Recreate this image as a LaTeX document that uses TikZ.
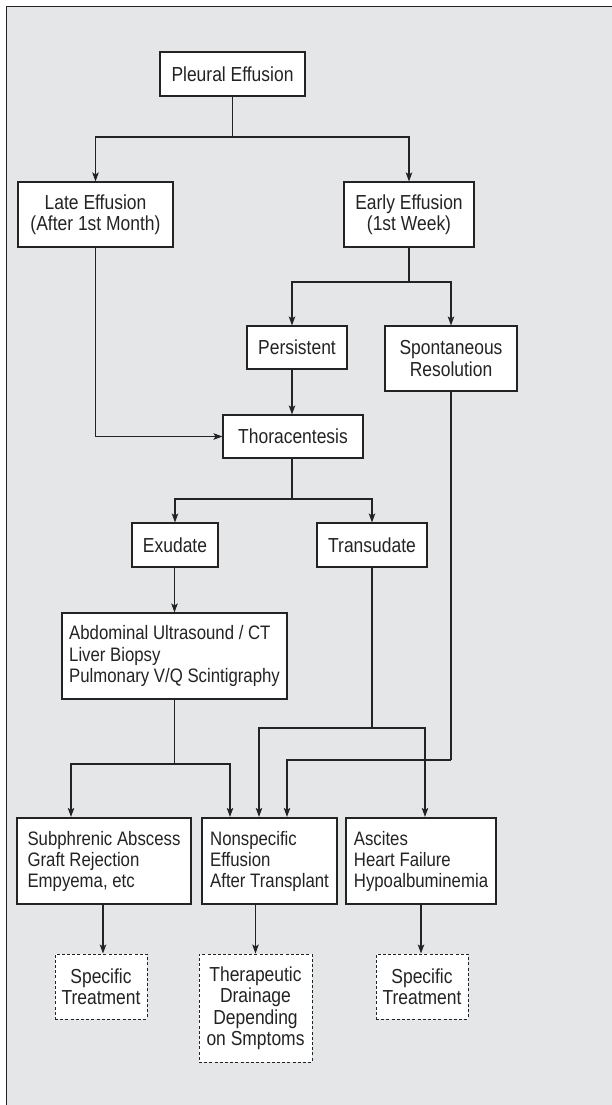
\documentclass[tikz,border=0pt]{standalone}
\usepackage{fontspec}
\setmainfont{Liberation Sans}[FakeStretch=0.86]
\usetikzlibrary{arrows.meta}
\definecolor{bggray}{RGB}{229,230,232}
\definecolor{ink}{RGB}{35,35,35}
\begin{document}
\begin{tikzpicture}[x=1pt,y=-1pt,
  every node/.style={font=\fontsize{20.3}{21.5}\selectfont, text=ink},
  box/.style={draw=ink, fill=white, line width=1.1pt, inner sep=0pt, align=center},
  tbox/.style={draw=ink, fill=white, line width=2.2pt, inner sep=0pt, align=left, font=\fontsize{19.5}{21}\selectfont},
  dbox/.style={draw=ink, fill=white, line width=1pt, dash pattern=on 3pt off 2.2pt, inner sep=0pt, align=center},
  conn/.style={draw=ink, line width=1.1pt},
  arr/.style={conn, -{Stealth[length=9pt,width=6.5pt,inset=2pt]}}]
\useasboundingbox (0,0) rectangle (612,1105);
\fill[white] (0,0) rectangle (612,1105);
\fill[bggray] (6.5,6.5) rectangle (612,1105);
\draw[ink, line width=1.6pt] (6.5,1105) -- (6.5,6.5) -- (612,6.5);

% nodes
\node[box, minimum width=145, minimum height=44] (pe) at (232.5,74) {Pleural Effusion};
\node[box, minimum width=155, minimum height=65] (late) at (95.5,214.5) {Late Effusion\\(After 1st Month)};
\node[box, minimum width=130, minimum height=65] (early) at (409,214.5) {Early Effusion\\(1st Week)};
\node[box, minimum width=100, minimum height=43] (pers) at (297,347.5) {Persistent};
\node[box, minimum width=132, minimum height=65] (spon) at (451,358.5) {Spontaneous\\Resolution};
\node[box, minimum width=140, minimum height=43] (thor) at (293,436.5) {Thoracentesis};
\node[box, minimum width=86, minimum height=44] (exu) at (175,545) {Exudate};
\node[box, minimum width=110, minimum height=44] (tran) at (372,545) {Transudate};
\node[box, minimum width=225, minimum height=86, align=left, font=\fontsize{19.5}{21.5}\selectfont] (abd) at (174.5,656) {Abdominal Ultrasound / CT\\Liver Biopsy\\Pulmonary V/Q Scintigraphy};
\node[tbox, minimum width=174, minimum height=86] (sub) at (104,861) {Subphrenic Abscess\\Graft Rejection\\Empyema, etc};
\node[tbox, minimum width=135, minimum height=86] (non) at (269.5,861) {Nonspecific\\Effusion\\After Transplant};
\node[tbox, minimum width=150, minimum height=86] (asc) at (421,861) {Ascites\\Heart Failure\\Hypoalbuminemia};
\node[dbox, minimum width=92, minimum height=65] (st1) at (101,986.5) {Specific\\Treatment};
\node[dbox, minimum width=113, minimum height=108] (tdr) at (255.5,1008) {Therapeutic\\Drainage\\Depending\\on Smptoms};
\node[dbox, minimum width=92, minimum height=65] (st2) at (422,986.5) {Specific\\Treatment};

% junctions
\coordinate (j1) at (232.5,137);
\coordinate (j2) at (409,282);
\coordinate (j3) at (292,499);
\coordinate (j4) at (174.5,764);
\coordinate (j5) at (372,728);
\coordinate (j6) at (451,760);

% connectors
\draw[conn] (pe.south) -- (j1);
\draw[arr] (j1) -| (late.north);
\draw[arr] (j1) -| (early.north);
\draw[conn, line width=1.5pt] (early.south) -- (j2);
\draw[arr] (j2) -| ([xshift=-5pt]pers.north);
\draw[arr] (j2) -| (spon.north);
\draw[arr] ([xshift=-5pt]pers.south) -- ([xshift=-5pt]pers.south |- thor.north);
\draw[arr] (late.south) |- (thor.west);
\draw[conn] ([xshift=-1pt]thor.south) -- (j3);
\draw[arr] (j3) -| (exu.north);
\draw[arr] (j3) -| (tran.north);
\draw[arr] (exu.south -| abd.north) -- (abd.north);
\draw[conn] (abd.south) -- (j4);
\draw[arr] (j4) -| ([xshift=-33pt]sub.north);
\draw[arr] (j4) -| ([xshift=-39.5pt]non.north);
\draw[conn] (tran.south) -- (j5);
\draw[arr] (j5) -| ([xshift=-10.5pt]non.north);
\draw[arr] (j5) -| ([xshift=4pt]asc.north);
\draw[conn] (spon.south) -- (j6);
\draw[arr] (j6) -| ([xshift=17.5pt]non.north);
\draw[arr] ([xshift=-1pt]sub.south) -- ([xshift=-1pt]sub.south |- st1.north);
\draw[arr] (tdr.north |- non.south) -- (tdr.north);
\draw[arr] (asc.south) -- (asc.south |- st2.north);
\end{tikzpicture}
\end{document}
